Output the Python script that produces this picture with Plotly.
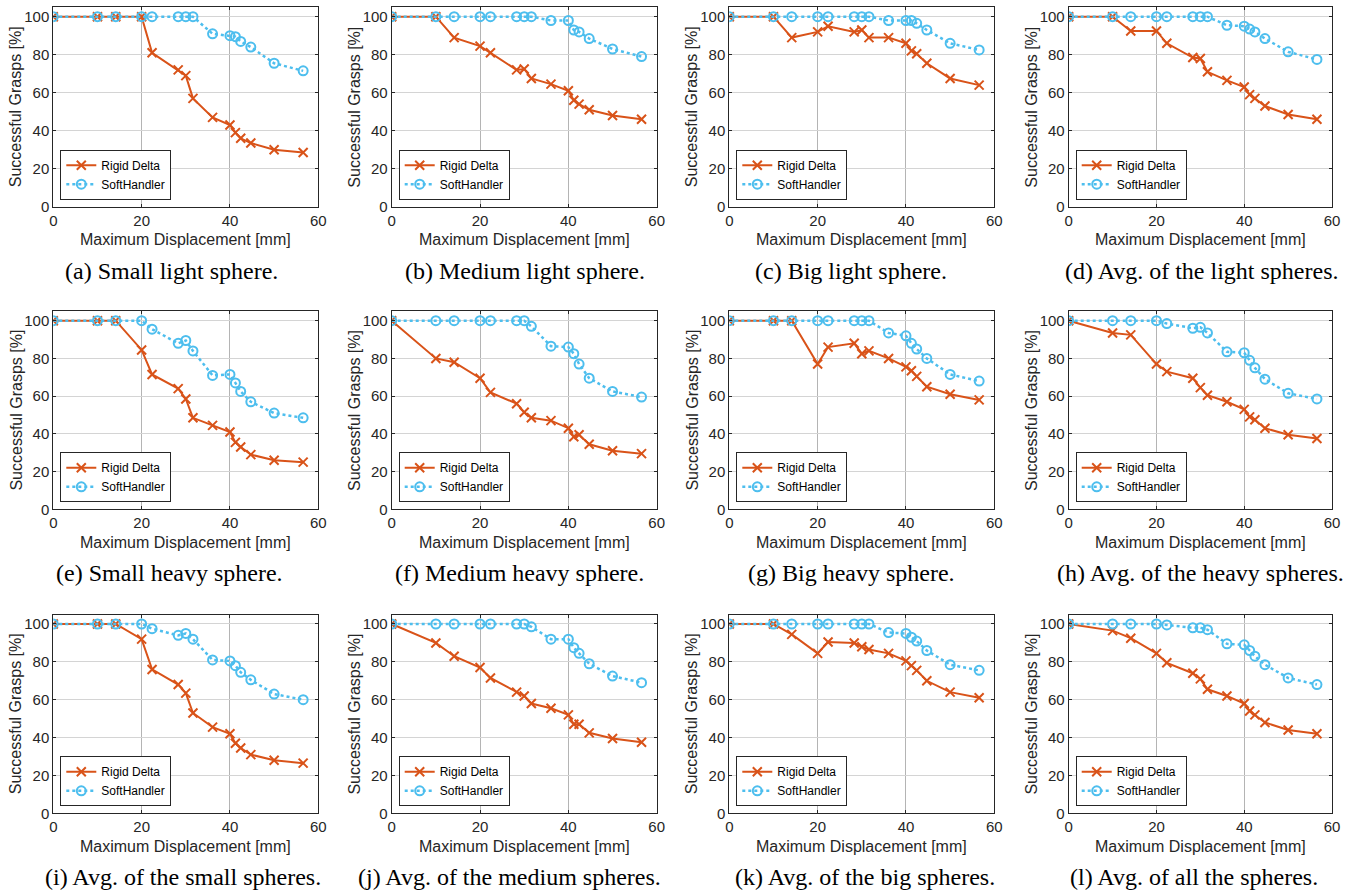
import plotly.graph_objects as go

# Maximum displacement of the grasp target [mm] (grid offsets 10 mm apart)
displacement = [0, 10, 14.14, 20, 22.36, 28.28, 30, 31.62, 36.06, 40, 41.23, 42.43, 44.72, 50, 56.57]

# Successful grasps [%] per sphere case
rigid_small_light = [100, 100, 100, 100, 81, 72, 69, 57, 47, 43, 39, 36, 33.5, 30, 28.5]
soft_small_light = [100, 100, 100, 100, 100, 100, 100, 100, 91, 90, 89.5, 87, 84, 75.5, 71.5]

rigid_medium_light = [100, 100, 89, 84.5, 81, 72, 72.5, 67.5, 64.5, 61, 56, 54, 51, 48, 46]
soft_medium_light = [100, 100, 100, 100, 100, 100, 100, 100, 98, 98, 93, 92, 88.5, 83, 79]

rigid_big_light = [100, 100, 89, 92, 95, 92, 93, 89, 89, 86, 82, 80.5, 75.5, 67.5, 64]
soft_big_light = [100, 100, 100, 100, 100, 100, 100, 100, 98, 98, 98, 96.5, 93, 86, 82.5]

rigid_avg_light = [100, 100, 92.5, 92.5, 86, 78.5, 78, 71, 66.5, 63, 59, 57, 53, 48.5, 46]
soft_avg_light = [100, 100, 100, 100, 100, 100, 100, 100, 95.5, 95, 93.5, 92, 88.5, 81.5, 77.5]

rigid_small_heavy = [100, 100, 100, 84.5, 71.5, 64, 58.5, 48.5, 44.5, 41, 35.5, 33, 29, 26, 25]
soft_small_heavy = [100, 100, 100, 100, 95.5, 88, 89.5, 84, 71, 71.5, 67, 62.5, 57, 51, 48.5]

rigid_medium_heavy = [100, 80, 78, 69.5, 62, 56, 51.5, 48.5, 47, 43, 38.5, 39.5, 34.5, 31, 29.5]
soft_medium_heavy = [100, 100, 100, 100, 100, 100, 100, 97, 86.5, 86, 82.5, 77, 69.5, 62.5, 59.5]

rigid_big_heavy = [100, 100, 100, 77, 86, 88, 82.5, 84, 80, 75.5, 73.5, 70.5, 65, 61, 58]
soft_big_heavy = [100, 100, 100, 100, 100, 100, 100, 100, 93.5, 92, 88, 85, 80, 71.5, 68]

rigid_avg_heavy = [100, 93.5, 92.5, 77, 73, 69.5, 64.5, 60.5, 57, 53, 49, 47.5, 43, 39.5, 37.5]
soft_avg_heavy = [100, 100, 100, 100, 98.5, 96, 96.5, 93.5, 83.5, 83, 79, 75, 69, 61.5, 58.5]

rigid_avg_small = [100, 100, 100, 92, 76, 68, 63.5, 53, 45.5, 42, 37, 34.5, 31, 28, 26.5]
soft_avg_small = [100, 100, 100, 100, 97.5, 94, 95, 92, 81, 80.5, 78, 74.5, 70.5, 63, 60]

rigid_avg_medium = [100, 90, 83, 77, 71.5, 64, 62, 58, 55.5, 52, 47, 47, 42.5, 39.5, 37.5]
soft_avg_medium = [100, 100, 100, 100, 100, 100, 100, 98.5, 92, 92, 87.5, 84.5, 79, 72.5, 69]

rigid_avg_big = [100, 100, 94.5, 84.5, 90.5, 90, 88, 86.5, 84.5, 80.5, 78, 75.5, 70, 64, 61]
soft_avg_big = [100, 100, 100, 100, 100, 100, 100, 100, 95.5, 95, 93, 91, 86, 78.5, 75.5]

rigid_avg_all = [100, 96.5, 92.5, 84.5, 79.5, 74, 71, 65.5, 62, 58, 54, 52, 48, 44, 42]
soft_avg_all = [100, 100, 100, 100, 99.5, 98, 98, 97, 89.5, 89, 86, 83, 78.5, 71.5, 68]

captions = [
    "(a) Small light sphere.", "(b) Medium light sphere.", "(c) Big light sphere.",
    "(d) Avg. of the light spheres.",
    "(e) Small heavy sphere.", "(f) Medium heavy sphere.", "(g) Big heavy sphere.",
    "(h) Avg. of the heavy spheres.",
    "(i) Avg. of the small spheres.", "(j) Avg. of the medium spheres.",
    "(k) Avg. of the big spheres.", "(l) Avg. of all the spheres.",
]

rigid_series = [rigid_small_light, rigid_medium_light, rigid_big_light, rigid_avg_light,
                rigid_small_heavy, rigid_medium_heavy, rigid_big_heavy, rigid_avg_heavy,
                rigid_avg_small, rigid_avg_medium, rigid_avg_big, rigid_avg_all]
soft_series = [soft_small_light, soft_medium_light, soft_big_light, soft_avg_light,
               soft_small_heavy, soft_medium_heavy, soft_big_heavy, soft_avg_heavy,
               soft_avg_small, soft_avg_medium, soft_avg_big, soft_avg_all]

# ---- page geometry (pixels) ----
W, H = 1352, 894
col_left = [53.3, 391.7, 729.3, 1068.7]
col_right = [318.3, 656.7, 994.3, 1332.0]
row_y0 = [206.7, 509.3, 813.3]     # pixel row of y = 0
row_y100 = [16.7, 320.7, 624.0]    # pixel row of y = 100
caption_cx = [171, 525, 851, 1202, 169, 519, 851, 1200, 183, 509, 865, 1194]
caption_cy = [270.7, 573.0, 877.0]

Y_MAX = 105
RIGID_COLOR = "#D95319"
SOFT_COLOR = "#4DBEEE"
AXIS_COLOR = "#262626"
SANS = "Liberation Sans"
SERIF = "Liberation Serif"

fig = go.Figure()
annotations = []
layout = dict(
    width=W, height=H,
    margin=dict(l=0, r=0, t=0, b=0),
    paper_bgcolor="white", plot_bgcolor="white",
    font=dict(family=SANS, color=AXIS_COLOR),
)

for i in range(12):
    r, c = divmod(i, 4)
    n = i + 1
    xa = "x" if n == 1 else f"x{n}"
    ya = "y" if n == 1 else f"y{n}"
    lg = "legend" if n == 1 else f"legend{n}"

    left, right = col_left[c], col_right[c]
    bottom = row_y0[r]
    top = bottom - (row_y0[r] - row_y100[r]) * Y_MAX / 100

    fig.add_trace(go.Scatter(
        x=displacement, y=rigid_series[i], name="Rigid Delta",
        xaxis=xa, yaxis=ya, legend=lg, mode="lines+markers",
        line=dict(color=RIGID_COLOR, width=2),
        marker=dict(symbol="x-thin", size=9, line=dict(color=RIGID_COLOR, width=2)),
    ))
    fig.add_trace(go.Scatter(
        x=displacement, y=soft_series[i], name="SoftHandler",
        xaxis=xa, yaxis=ya, legend=lg, mode="lines+markers",
        line=dict(color=SOFT_COLOR, width=2.5, dash="dot"),
        marker=dict(symbol="circle-open", size=9, color=SOFT_COLOR,
                    line=dict(color=SOFT_COLOR, width=2)),
    ))

    axis_common = dict(
        showline=True, linecolor=AXIS_COLOR, linewidth=1, mirror="ticks",
        ticks="inside", ticklen=3, tickcolor=AXIS_COLOR,
        tickfont=dict(family=SANS, size=15, color=AXIS_COLOR),
        zeroline=False, fixedrange=True, automargin=False,
    )
    layout["xaxis" if n == 1 else f"xaxis{n}"] = dict(
        axis_common, domain=[left / W, right / W], range=[0, 60],
        tickmode="array", tickvals=[0, 20, 40, 60],
        showgrid=True, gridcolor="#b4b4b4", gridwidth=1,
        anchor=ya,
    )
    layout["yaxis" if n == 1 else f"yaxis{n}"] = dict(
        axis_common, domain=[1 - bottom / H, 1 - top / H], range=[0, Y_MAX],
        tickmode="array", tickvals=[0, 20, 40, 60, 80, 100],
        showgrid=True, gridcolor="#d4d4d4", gridwidth=1,
        anchor=xa,
    )
    layout[lg] = dict(
        x=(left + 7) / W, y=1 - (bottom - 7) / H,
        xanchor="left", yanchor="bottom",
        bgcolor="white", bordercolor=AXIS_COLOR, borderwidth=1,
        font=dict(family=SANS, size=12, color="black"),
        itemwidth=30, tracegroupgap=0,
    )

    # axis titles
    annotations.append(dict(
        text="Maximum Displacement [mm]", xref="paper", yref="paper",
        x=(left + right) / 2 / W, y=1 - (bottom + 33) / H,
        xanchor="center", yanchor="middle", showarrow=False,
        font=dict(family=SANS, size=16, color=AXIS_COLOR),
    ))
    annotations.append(dict(
        text="Successful Grasps [%]", xref="paper", yref="paper",
        x=(left - 37) / W, y=1 - (bottom + top) / 2 / H,
        xanchor="center", yanchor="middle", textangle=-90, showarrow=False,
        font=dict(family=SANS, size=16, color=AXIS_COLOR),
    ))
    # sub-figure caption
    annotations.append(dict(
        text=captions[i], xref="paper", yref="paper",
        x=caption_cx[i] / W, y=1 - caption_cy[r] / H,
        xanchor="center", yanchor="middle", showarrow=False,
        font=dict(family=SERIF, size=24, color="black"),
    ))

layout["annotations"] = annotations
fig.update_layout(**layout)
fig.write_html("out.html")
